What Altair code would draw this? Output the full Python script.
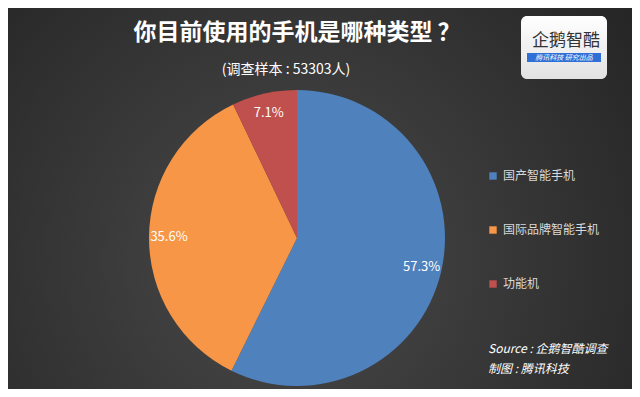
import altair as alt
import pandas as pd

categories = ["国产智能手机", "国际品牌智能手机", "功能机"]
shares = [57.3, 35.6, 7.1]
colors = ["#4F81BD", "#F79646", "#C0504D"]
title_text = "你目前使用的手机是哪种类型 ？"
subtitle_text = "(调查样本 : 53303人)"
source_line1 = "Source : 企鹅智酷调查"
source_line2 = "制图 : 腾讯科技"
logo_main = "企鹅智酷"
logo_band = "腾讯科技  研究出品"

FONT = "Noto Sans CJK SC"
W, H = 624, 381
CX, CY, R = 289, 230, 148

df = pd.DataFrame({
    "cat": categories,
    "share": shares,
    "order": list(range(len(categories))),
    "label": [f"{v}%" for v in shares],
})
one = pd.DataFrame({"a": [0]})

bg = alt.Chart(one).mark_rect(
    color=alt.Gradient(
        gradient="radial",
        stops=[alt.GradientStop(color="#4a4a4a", offset=0),
               alt.GradientStop(color="#1f1f1f", offset=1)],
        x1=0.45, y1=0.6, x2=0.45, y2=0.6, r1=0, r2=0.8,
    )
).encode(x=alt.value(0), x2=alt.value(W), y=alt.value(0), y2=alt.value(H))

base = alt.Chart(df).encode(
    theta=alt.Theta("share:Q", stack=True),
    order=alt.Order("order:Q"),
)
pie = base.mark_arc(outerRadius=R).encode(
    x=alt.value(CX), y=alt.value(CY),
    color=alt.Color(
        "cat:N",
        scale=alt.Scale(domain=categories, range=colors),
        legend=alt.Legend(
            orient="none", legendX=479, legendY=162, title=None,
            symbolType="square", symbolSize=55, symbolStrokeWidth=0,
            labelColor="#d9d9d9", labelFontSize=12, labelFont=FONT,
            rowPadding=42, labelOffset=4,
        ),
    ),
)
labels = base.mark_text(radius=128, fontSize=13, font=FONT).encode(
    text="label:N", x=alt.value(CX), y=alt.value(CY), color=alt.value("white")
)


def txt(s, x, y, **kw):
    return alt.Chart(pd.DataFrame({"t": [s]})).mark_text(font=FONT, **kw).encode(
        text="t:N", x=alt.value(x), y=alt.value(y)
    )


title = txt(title_text, 289, 25, fontSize=23, fontWeight="bold", color="white")
subtitle = txt(subtitle_text, 278, 62, fontSize=14, color="white")
src1 = txt(source_line1, 480, 341, fontSize=12, fontStyle="italic", color="white", align="left")
src2 = txt(source_line2, 480, 361, fontSize=12, fontStyle="italic", color="white", align="left")

logo_box = alt.Chart(one).mark_rect(
    cornerRadius=6,
    color=alt.Gradient(
        gradient="linear",
        stops=[alt.GradientStop(color="#ffffff", offset=0),
               alt.GradientStop(color="#e2e2e2", offset=1)],
        x1=0, y1=0, x2=0, y2=1,
    ),
).encode(x=alt.value(513), x2=alt.value(599), y=alt.value(8), y2=alt.value(71))
logo_bar = alt.Chart(one).mark_rect(color="#2f6fd6").encode(
    x=alt.value(519), x2=alt.value(593), y=alt.value(45), y2=alt.value(54)
)
logo_t1 = txt(logo_main, 558, 33, fontSize=17, color="#333333")
logo_t2 = txt(logo_band, 556, 50, fontSize=7, color="white", fontStyle="italic")

chart = alt.layer(
    bg, pie, labels, title, subtitle, src1, src2, logo_box, logo_bar, logo_t1, logo_t2
).properties(
    width=W, height=H, autosize=alt.AutoSizeParams(type="none"), padding=0,
    background="#333333",
).configure_view(stroke=None)

chart.save("out.html", embed_options={"renderer": "svg", "actions": False})
